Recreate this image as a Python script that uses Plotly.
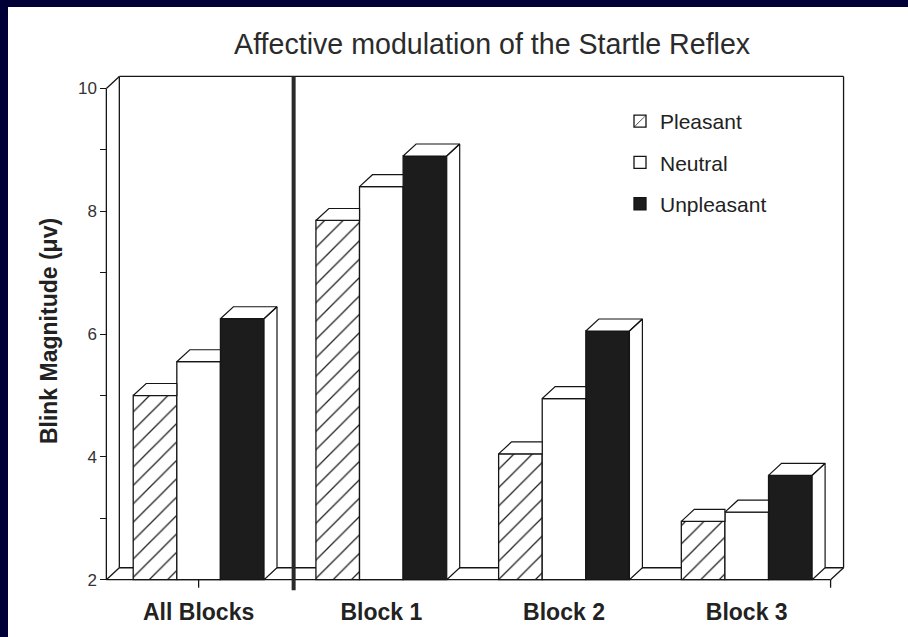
import plotly.graph_objects as go

# ---------------- data ----------------
categories = ["All Blocks", "Block 1", "Block 2", "Block 3"]
series_names = ["Pleasant", "Neutral", "Unpleasant"]
pleasant = [5.0, 7.85, 4.05, 2.95]
neutral = [5.55, 8.4, 4.95, 3.1]
unpleasant = [6.25, 8.9, 6.05, 3.7]
y_tick_values = [2, 4, 6, 8, 10]
y_tick_labels = ["2", "4", "6", "8", "10"]
title_text = "Affective modulation of the Startle Reflex"
y_title = "<b>Blink Magnitude (\u03bcv)</b>"

series = [pleasant, neutral, unpleasant]

# ---------------- geometry / style ----------------
FLOOR = 2.0
Y_TOP = 10.0
DX = 0.071      # 3-D depth offset in x units
DY = 0.195      # 3-D depth offset in y units
GROUP_W = 0.716
BAR_W = GROUP_W / 3
X_FRONT_L = -0.505
X_BACK_R = 3.53
X_RANGE = [-0.6, 3.62]
Y_RANGE = [1.8, 10.3]
INK = "#151515"
FONT = "Liberation Sans, Arial, Helvetica, sans-serif"

x_idx = list(range(len(categories)))

fills = [
    dict(color="white", pattern=dict(shape="/", fgcolor="#222", bgcolor="white",
                                     size=13, solidity=0.1, fillmode="replace")),
    dict(color="white"),
    dict(color="#1c1c1c"),
]

fig = go.Figure()

# front faces of the bars
for j, (name, vals) in enumerate(zip(series_names, series)):
    fig.add_trace(go.Bar(
        x=x_idx, y=[v - FLOOR for v in vals], base=FLOOR,
        width=BAR_W, offset=-GROUP_W / 2 + j * BAR_W,
        name=name, legendgroup=name,
        marker=dict(**fills[j], line=dict(color=INK, width=1.3)),
        customdata=[[c, v] for c, v in zip(categories, vals)],
        hovertemplate="%{customdata[0]}: %{customdata[1]}<extra>" + name + "</extra>",
    ))

# 3-D top and side faces, derived from the same values
for j, (name, vals) in enumerate(zip(series_names, series)):
    xs, ys = [], []
    for i, v in enumerate(vals):
        x0 = i - GROUP_W / 2 + j * BAR_W
        x1 = x0 + BAR_W
        nxt = series[j + 1][i] if j + 1 < len(series) else None
        if nxt is not None and nxt > v:
            polys = [[(x0, v), (x1, v), (x1, v + DY), (x0 + DX, v + DY), (x0, v)]]
        else:
            top = [(x0, v), (x1, v), (x1 + DX, v + DY), (x0 + DX, v + DY), (x0, v)]
            side = [(x1, FLOOR), (x1, v), (x1 + DX, v + DY), (x1 + DX, FLOOR + DY), (x1, FLOOR)]
            polys = [side, top]
        for p in polys:
            xs += [q[0] for q in p] + [None]
            ys += [q[1] for q in p] + [None]
    fig.add_trace(go.Scatter(
        x=xs, y=ys, mode="lines", fill="toself", fillcolor="white",
        line=dict(color=INK, width=1.2), hoverinfo="skip",
        showlegend=False, legendgroup=name,
    ))

# ---------------- frame (back wall, floor, front axis) ----------------
def seg(x0, y0, x1, y1, width=1.3, color=INK, layer="below"):
    fig.add_shape(type="line", xref="x", yref="y", x0=x0, y0=y0, x1=x1, y1=y1,
                  line=dict(color=color, width=width), layer=layer)

# back wall
seg(X_FRONT_L + DX, FLOOR + DY, X_FRONT_L + DX, Y_TOP + DY)
seg(X_FRONT_L + DX, Y_TOP + DY, X_BACK_R, Y_TOP + DY)
seg(X_BACK_R, FLOOR + DY, X_BACK_R, Y_TOP + DY)
# front axis + diagonals
seg(X_FRONT_L, FLOOR, X_FRONT_L, Y_TOP)
seg(X_FRONT_L, Y_TOP, X_FRONT_L + DX, Y_TOP + DY)
seg(X_FRONT_L, FLOOR, X_FRONT_L + DX, FLOOR + DY)
# floor
seg(X_FRONT_L, FLOOR, X_BACK_R - DX, FLOOR)
seg(X_FRONT_L + DX, FLOOR + DY, X_BACK_R, FLOOR + DY)
seg(X_BACK_R - DX, FLOOR, X_BACK_R, FLOOR + DY)
# small ticks below the floor
seg(0, FLOOR, 0, FLOOR - 0.13)
seg(X_BACK_R - DX, FLOOR, X_BACK_R - DX, FLOOR - 0.13)
# thick separator between "All Blocks" and the block-by-block bars
seg(0.52, 1.83, 0.52, Y_TOP + DY, width=4, color="#2a2a2a", layer="above")

# white page on navy slide background
plot_l, plot_t, plot_w, plot_h = 89, 70, 771, 522
def px(xp):
    return (xp - plot_l) / plot_w
def py(yp):
    return (plot_t + plot_h - yp) / plot_h
fig.add_shape(type="rect", xref="paper", yref="paper",
              x0=px(8), x1=px(915), y0=py(645), y1=py(7),
              fillcolor="white", line=dict(width=0), layer="below")

fig.update_layout(
    width=908, height=637,
    margin=dict(l=plot_l, r=908 - plot_l - plot_w, t=plot_t, b=637 - plot_t - plot_h,
                autoexpand=False),
    paper_bgcolor="#000036",
    plot_bgcolor="white",
    barmode="overlay",
    font=dict(family=FONT, color="#222"),
    title=dict(text=title_text, x=0.542, xanchor="center", y=1 - 44 / 637,
               yanchor="middle", font=dict(size=28.6, color="#2b2b2b", family=FONT)),
    showlegend=True,
    legend=dict(x=px(620), y=py(101), xanchor="left", yanchor="top",
                font=dict(size=21, color="#222", family=FONT),
                bgcolor="rgba(0,0,0,0)", tracegroupgap=11, traceorder="grouped"),
    xaxis=dict(range=X_RANGE, tickvals=x_idx, ticktext=["<b>%s</b>" % c for c in categories],
               showgrid=False, zeroline=False, showline=False, ticks="",
               tickfont=dict(size=23, color="#222", family=FONT),
               ticklabelstandoff=4, fixedrange=True, automargin=False),
    yaxis=dict(range=Y_RANGE, anchor="free",
               position=(X_FRONT_L - X_RANGE[0]) / (X_RANGE[1] - X_RANGE[0]),
               tickvals=y_tick_values, ticktext=y_tick_labels,
               ticks="outside", ticklen=6, tickcolor=INK, tickwidth=1.2,
               minor=dict(tickvals=[3, 5, 7, 9], ticks="outside", ticklen=6,
                          tickcolor=INK, tickwidth=1.2),
               showgrid=False, zeroline=False, showline=False,
               tickfont=dict(size=17, color="#333", family=FONT),
               title=dict(text=y_title, standoff=12,
                          font=dict(size=23, color="#222", family=FONT)),
               fixedrange=True, automargin=False),
)

fig.write_html("out.html", config={"displayModeBar": False})

# remove the browser's default 8px body margin so the figure fills the window
with open("out.html", "r", encoding="utf-8") as f:
    html = f.read()
html = html.replace("<body>", '<body style="margin:0;padding:0;overflow:hidden;">', 1)
with open("out.html", "w", encoding="utf-8") as f:
    f.write(html)
